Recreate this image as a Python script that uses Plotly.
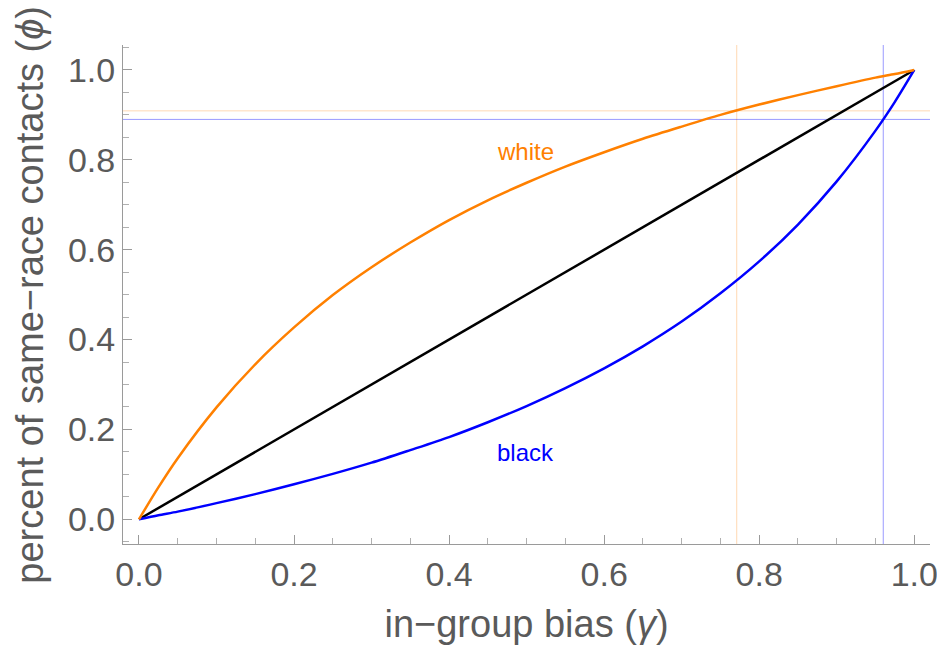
import plotly.graph_objects as go

# in-group bias values (gamma)
gamma = [0.0, 0.025, 0.05, 0.1, 0.15, 0.2, 0.25, 0.3, 0.35, 0.4, 0.45, 0.5,
         0.55, 0.6, 0.65, 0.7, 0.75, 0.8, 0.85, 0.9, 0.95, 0.975, 1.0]
# percent of same-race contacts, white group
phi_white = [0.0, 0.071, 0.136, 0.249, 0.345, 0.427, 0.499, 0.561, 0.616, 0.666,
             0.710, 0.749, 0.785, 0.817, 0.847, 0.874, 0.900, 0.923, 0.944,
             0.964, 0.983, 0.991, 1.0]
# percent of same-race contacts, black group
phi_black = [0.0, 0.009, 0.017, 0.036, 0.056, 0.078, 0.101, 0.126, 0.154, 0.183,
             0.216, 0.252, 0.292, 0.336, 0.385, 0.440, 0.503, 0.574, 0.656,
             0.752, 0.865, 0.929, 1.0]
# diagonal reference
diag_x = [0.0, 1.0]
diag_y = [0.0, 1.0]

# reference markers
white_gamma = 0.771
white_phi = 0.909
black_gamma = 0.960
black_phi = 0.890

x_ticks = [0.0, 0.2, 0.4, 0.6, 0.8, 1.0]
y_ticks = [0.0, 0.2, 0.4, 0.6, 0.8, 1.0]

ORANGE = "#FF8000"
BLUE = "#0000FF"
GRAY_TXT = "#5a5a5a"
AXIS_COL = "#9a9a9a"
FONT = "Liberation Sans, Arial, sans-serif"

xr = [-0.0206, 1.0203]
yr = [-0.055, 1.0556]

fig = go.Figure()

# light guide lines
fig.add_trace(go.Scatter(x=[white_gamma, white_gamma], y=[yr[0], yr[1]], mode="lines",
                         line=dict(color="rgba(255,128,0,0.3)", width=1), hoverinfo="skip"))
fig.add_trace(go.Scatter(x=[black_gamma, black_gamma], y=[yr[0], yr[1]], mode="lines",
                         line=dict(color="rgba(0,0,255,0.4)", width=1), hoverinfo="skip"))
fig.add_trace(go.Scatter(x=[xr[0], xr[1]], y=[white_phi, white_phi], mode="lines",
                         line=dict(color="rgba(255,128,0,0.3)", width=1), hoverinfo="skip"))
fig.add_trace(go.Scatter(x=[xr[0], xr[1]], y=[black_phi, black_phi], mode="lines",
                         line=dict(color="rgba(0,0,255,0.4)", width=1), hoverinfo="skip"))

fig.add_trace(go.Scatter(x=diag_x, y=diag_y, mode="lines",
                         line=dict(color="black", width=2.5)))
fig.add_trace(go.Scatter(x=gamma, y=phi_black, mode="lines",
                         line=dict(color=BLUE, width=2.5, shape="spline", smoothing=0.8)))
fig.add_trace(go.Scatter(x=gamma, y=phi_white, mode="lines",
                         line=dict(color=ORANGE, width=2.5, shape="spline", smoothing=0.8)))

fig.add_annotation(x=0.4986, y=0.818, text="white", showarrow=False,
                   font=dict(family=FONT, size=24, color=ORANGE))
fig.add_annotation(x=0.499, y=0.149, text="black", showarrow=False,
                   font=dict(family=FONT, size=24, color=BLUE))

# y-axis title
fig.add_annotation(xref="paper", yref="y", x=-0.1152, y=0.50, textangle=-90,
                   text="percent of same−race contacts (<i>ϕ</i>)", showarrow=False,
                   xanchor="center", yanchor="middle",
                   font=dict(family=FONT, size=38, color=GRAY_TXT))

axis_common = dict(
    showgrid=False, zeroline=False, showline=True, linecolor=AXIS_COL, linewidth=1,
    ticks="inside", ticklen=9, tickwidth=1, tickcolor=AXIS_COL,
    tickfont=dict(family=FONT, size=34, color=GRAY_TXT),
    minor=dict(ticks="inside", ticklen=6, tickwidth=1, tickcolor="#b0b0b0", dtick=0.05),
    automargin=False,
)

fig.update_layout(
    width=945, height=652,
    margin=dict(l=115, r=23, t=37, b=116),
    plot_bgcolor="white", paper_bgcolor="white",
    showlegend=False,
    xaxis=dict(range=xr, tickvals=x_ticks, ticktext=[f"{v:.1f}" for v in x_ticks],
               title=dict(text="in−group bias (<i>γ</i>)", standoff=18,
                          font=dict(family=FONT, size=38, color=GRAY_TXT)),
               **axis_common),
    yaxis=dict(range=yr, tickvals=y_ticks, ticktext=[f"{v:.1f}" for v in y_ticks],
               **axis_common),
)

fig.write_html("out.html")
